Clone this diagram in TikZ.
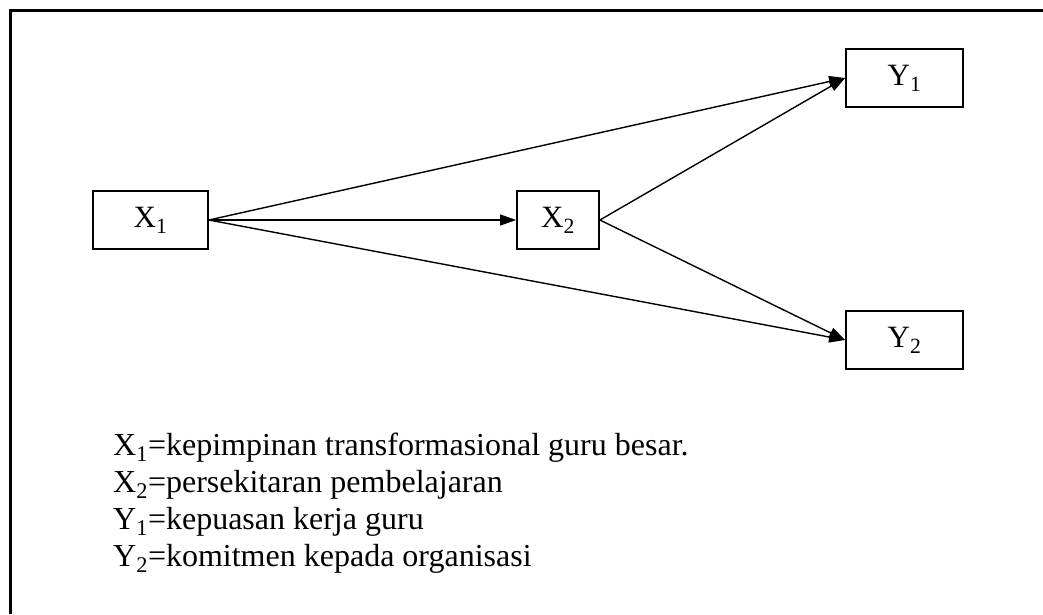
\documentclass[tikz,border=0pt]{standalone}
\usepackage{fontspec}
\setmainfont{Liberation Serif}
\usetikzlibrary{arrows.meta}
\begin{document}
\begin{tikzpicture}[x=1pt,y=-1pt,
  var/.style={draw,line width=1.8pt,minimum width=115pt,minimum height=58pt,inner sep=0pt,font=\fontsize{31}{36}\selectfont},
  link/.style={line width=1.4pt,-{Triangle[length=16pt,width=11pt]}},
  legend/.style={anchor=base west,inner sep=0pt,font=\fontsize{32}{37}\selectfont}]
\useasboundingbox (0,0) rectangle (1043,614);
% open frame: top and left edges
\draw[line width=3pt] (1043,10.5) -- (10.5,10.5) -- (10.5,614);
% variables
\node[var] (x1) at (150.5,220) {X\textsubscript{1}};
\node[var,minimum width=82pt] (x2) at (558,220) {X\textsubscript{2}};
\node[var,minimum width=117pt] (y1) at (904.5,78) {Y\textsubscript{1}};
\node[var,minimum width=117pt] (y2) at (904.5,340) {Y\textsubscript{2}};
% paths
\draw[link] (x1.east) -- (x2.west);
\draw[link] (x1.east) -- (y1.west);
\draw[link] (x1.east) -- (y2.west);
\draw[link] (x2.east) -- (y1.west);
\draw[link] (x2.east) -- (y2.west);
% key
\node[legend] (k1) at (113,455) {X\textsubscript{1}=kepimpinan transformasional guru besar.};
\node[legend] (k2) at (113,492) {X\textsubscript{2}=persekitaran pembelajaran};
\node[legend] (k3) at (113,529) {Y\textsubscript{1}=kepuasan kerja guru};
\node[legend] (k4) at (113,566) {Y\textsubscript{2}=komitmen kepada organisasi};
\end{tikzpicture}
\end{document}
